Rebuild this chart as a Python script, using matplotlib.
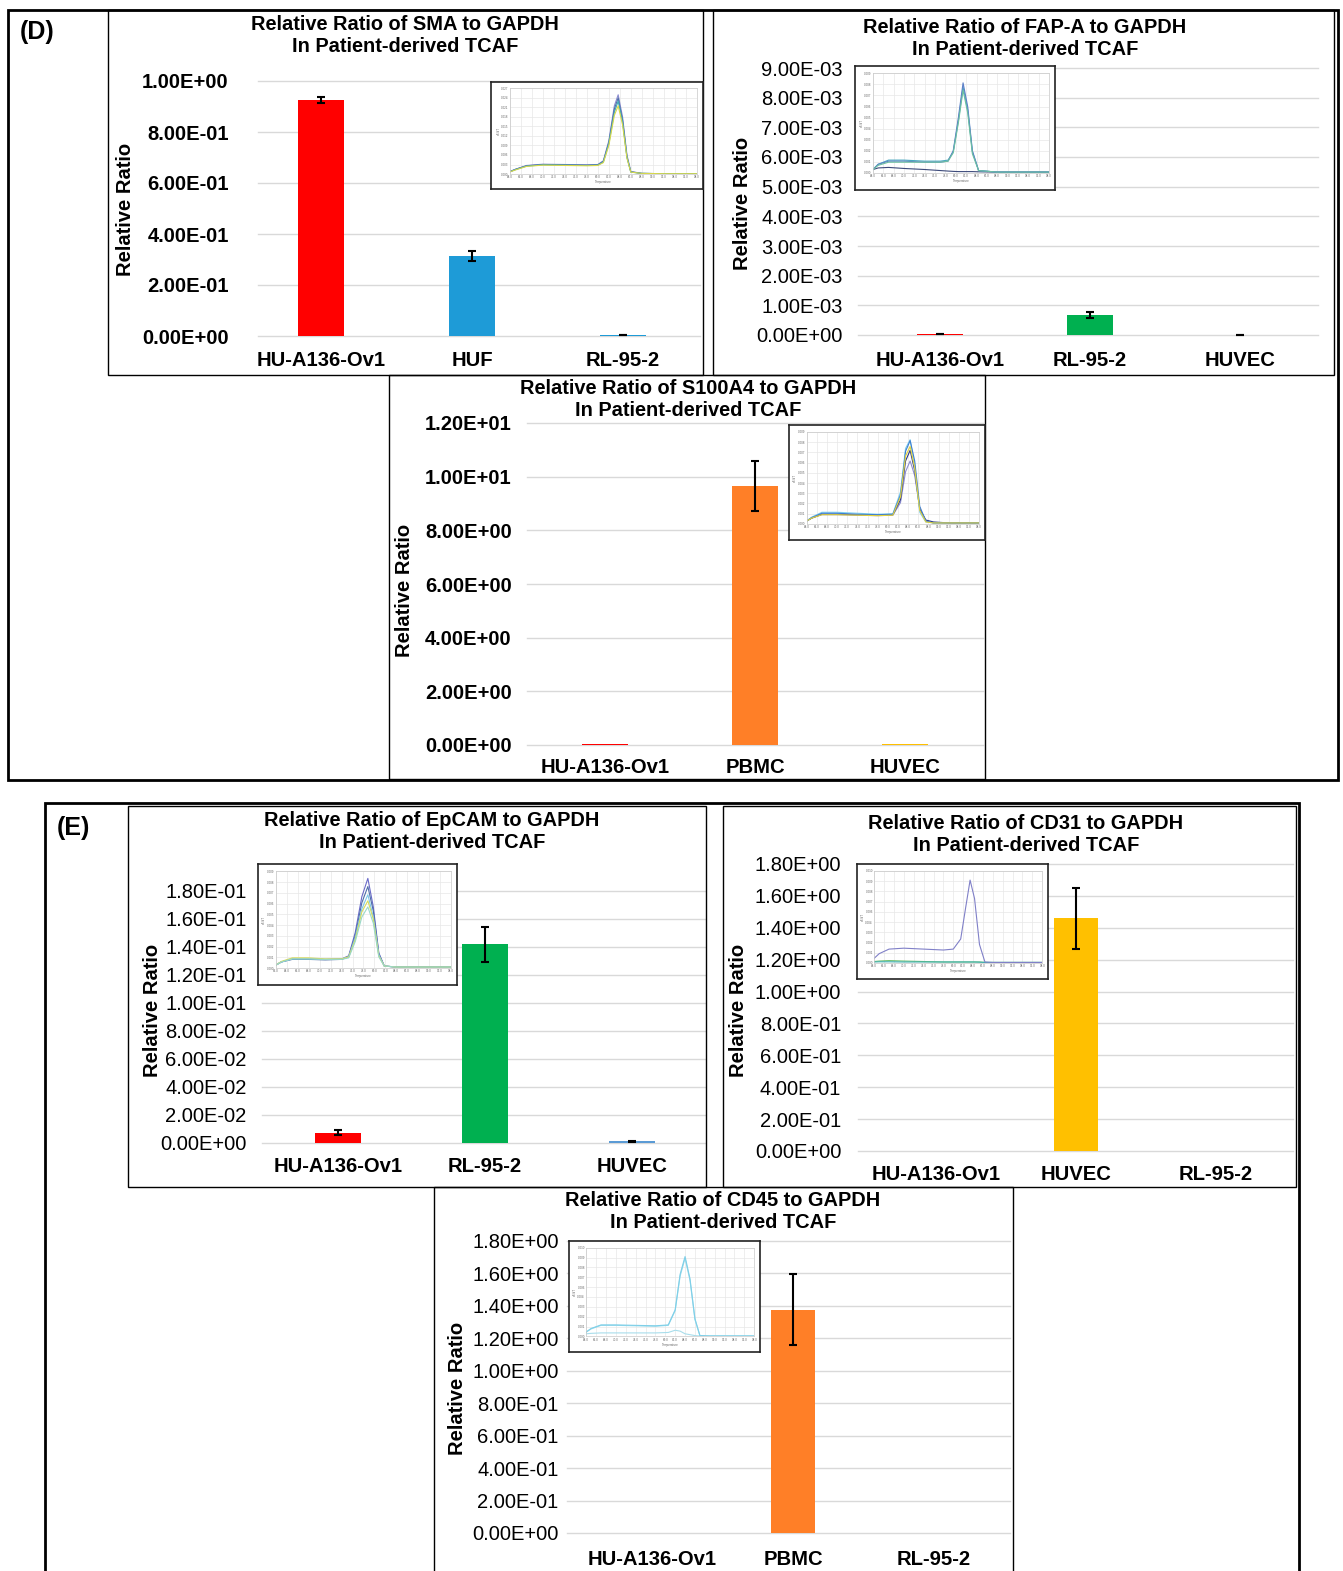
import numpy as np
import matplotlib
matplotlib.use("Agg")
import matplotlib.pyplot as plt
from matplotlib.patches import Rectangle

plt.rcParams['font.family'] = ['Liberation Sans', 'DejaVu Sans']

W, H = 1343, 1571

# ---- bar data ----
sma_cats = ["HU-A136-Ov1", "HUF", "RL-95-2"]
sma_vals = [0.925, 0.314, 0.003]
sma_errs = [0.011, 0.021, 0.001]

fap_cats = ["HU-A136-Ov1", "RL-95-2", "HUVEC"]
fap_vals = [0.00003, 0.00066, 0.0]
fap_errs = [0.000005, 0.0001, 0.000005]

s100_cats = ["HU-A136-Ov1", "PBMC", "HUVEC"]
s100_vals = [0.04, 9.65, 0.04]
s100_errs = [0.0, 0.92, 0.0]

epcam_cats = ["HU-A136-Ov1", "RL-95-2", "HUVEC"]
epcam_vals = [0.0075, 0.142, 0.0012]
epcam_errs = [0.002, 0.0125, 0.0004]

cd31_cats = ["HU-A136-Ov1", "HUVEC", "RL-95-2"]
cd31_vals = [0.0, 1.46, 0.0]
cd31_errs = [0.0, 0.19, 0.0]

cd45_cats = ["HU-A136-Ov1", "PBMC", "RL-95-2"]
cd45_vals = [0.0, 1.376, 0.0]
cd45_errs = [0.0, 0.22, 0.0]

# ---- melt curve insets ----
sma_mx = [64, 65, 67, 70, 74, 78, 80, 81, 82, 83, 83.7, 84.5, 85.3, 86, 88, 92, 98]
sma_mc = [
    [0.8, 1.5, 2.7, 3.1, 3.0, 2.9, 3.0, 4.2, 10.5, 21.5, 25.0, 18.0, 6.0, 0.8, 0.2, 0.1, 0.1],
    [0.8, 1.5, 2.6, 3.0, 2.9, 2.8, 2.9, 4.0, 10.0, 20.5, 24.0, 17.0, 5.5, 0.7, 0.2, 0.1, 0.1],
    [0.7, 1.4, 2.5, 2.9, 2.8, 2.7, 2.8, 3.8, 9.6, 19.5, 23.0, 16.5, 5.2, 0.6, 0.2, 0.1, 0.1],
    [0.7, 1.3, 2.4, 2.8, 2.7, 2.6, 2.7, 3.6, 9.0, 18.5, 21.5, 15.5, 5.0, 0.6, 0.2, 0.1, 0.1],
]
sma_mcol = ["#8C8CD0", "#4F6FA8", "#3FA7B5", "#D8D84A"]

fap_mx = [64, 65, 67, 70, 74, 77, 78.5, 79.5, 80.5, 81.4, 82.3, 83.2, 84.4, 88, 92, 98]
fap_mc = [
    [0.3, 0.45, 0.5, 0.4, 0.3, 0.2, 0.15, 0.12, 0.1, 0.1, 0.1, 0.1, 0.08, 0.05, 0.05, 0.05],
    [0.3, 0.8, 1.2, 1.2, 1.1, 1.1, 1.2, 2.0, 5.0, 8.2, 6.0, 2.0, 0.2, 0.05, 0.05, 0.05],
    [0.3, 0.8, 1.1, 1.1, 1.0, 1.0, 1.1, 2.1, 5.3, 8.6, 6.3, 2.1, 0.2, 0.05, 0.05, 0.05],
    [0.3, 0.7, 1.0, 1.0, 1.0, 1.0, 1.1, 1.9, 4.8, 7.9, 5.7, 1.8, 0.2, 0.05, 0.05, 0.05],
]
fap_mcol = ["#3D4A7A", "#4AA8C0", "#5C7FC8", "#6CC0A0"]

s100_mx = [64, 65, 67, 70, 74, 78, 81, 82.5, 83.5, 84.4, 85.3, 86.3, 87.5, 89, 92, 98]
s100_mc = [
    [0.3, 0.6, 0.95, 0.95, 0.9, 0.85, 0.9, 2.2, 5.4, 6.5, 5.0, 1.6, 0.3, 0.1, 0.1, 0.1],
    [0.3, 0.6, 1.0, 1.0, 0.95, 0.9, 0.95, 2.5, 6.5, 7.6, 5.5, 1.5, 0.4, 0.2, 0.1, 0.1],
    [0.3, 0.7, 1.2, 1.2, 1.1, 1.0, 1.05, 3.3, 7.8, 8.7, 6.0, 1.2, 0.2, 0.1, 0.1, 0.1],
    [0.3, 0.65, 1.1, 1.1, 1.0, 0.95, 1.0, 3.0, 7.5, 8.6, 6.5, 1.8, 0.3, 0.1, 0.1, 0.1],
    [0.3, 0.6, 0.95, 0.95, 0.9, 0.85, 0.9, 2.8, 7.0, 8.0, 5.8, 1.4, 0.2, 0.1, 0.1, 0.1],
]
s100_mcol = ["#8C8CD0", "#2E3A87", "#7FD0F0", "#3F7FD0", "#E3D23A"]

epcam_mx = [62, 63, 65, 68, 71, 74, 75.3, 76.5, 77.7, 78.8, 79.8, 80.8, 81.8, 84, 88, 94]
epcam_mc = [
    [0.3, 0.6, 0.9, 0.9, 0.85, 0.9, 1.2, 3.5, 7.0, 8.8, 6.0, 1.5, 0.2, 0.1, 0.1, 0.1],
    [0.3, 0.6, 0.85, 0.85, 0.8, 0.85, 1.1, 3.2, 6.4, 8.0, 5.6, 1.4, 0.2, 0.1, 0.1, 0.1],
    [0.3, 0.6, 0.9, 0.9, 0.85, 0.9, 1.1, 3.0, 5.8, 7.2, 5.0, 1.3, 0.2, 0.1, 0.1, 0.1],
    [0.3, 0.65, 1.0, 1.0, 0.9, 0.9, 1.1, 2.8, 5.5, 6.6, 4.8, 1.2, 0.2, 0.1, 0.1, 0.1],
    [0.3, 0.6, 0.9, 0.9, 0.85, 0.85, 1.0, 2.6, 5.0, 6.0, 4.4, 1.1, 0.2, 0.1, 0.1, 0.1],
]
epcam_mcol = ["#6A6AC8", "#4F6FA8", "#7EC8E8", "#D8DC5A", "#9AD8C8"]

cd31_mx = [64, 65, 67, 70, 74, 78, 80, 81.5, 82.5, 83.4, 84.3, 85.3, 86.4, 88, 92, 98]
cd31_mc = [
    [0.15, 0.2, 0.25, 0.2, 0.15, 0.1, 0.1, 0.1, 0.1, 0.1, 0.1, 0.1, 0.05, 0.05, 0.05, 0.05],
    [0.1, 0.12, 0.12, 0.1, 0.1, 0.1, 0.1, 0.1, 0.1, 0.1, 0.1, 0.08, 0.05, 0.05, 0.05, 0.05],
    [0.5, 1.0, 1.5, 1.6, 1.5, 1.4, 1.5, 2.6, 6.0, 9.0, 7.0, 2.0, 0.1, 0.05, 0.05, 0.05],
]
cd31_mcol = ["#6CBF6C", "#40B0B0", "#8080C8"]

cd45_mx = [64, 65, 67, 70, 74, 78, 80.6, 82, 83, 84, 85, 86, 87, 89, 93, 98]
cd45_mc = [
    [0.3, 0.35, 0.4, 0.4, 0.4, 0.4, 0.45, 0.7, 0.6, 0.3, 0.2, 0.1, 0.05, 0.05, 0.05, 0.05],
    [0.5, 0.85, 1.25, 1.25, 1.2, 1.15, 1.25, 2.9, 6.8, 8.8, 6.3, 1.9, 0.1, 0.05, 0.05, 0.05],
    [0.5, 0.9, 1.3, 1.3, 1.25, 1.2, 1.3, 3.0, 7.0, 9.0, 6.5, 2.0, 0.1, 0.05, 0.05, 0.05],
]
cd45_mcol = ["#A8DDEB", "#9ADCEB", "#7FCFE8"]

fig = plt.figure(figsize=(W / 100, H / 100), dpi=100)


def px_axes(l, t, r, b, **kw):
    return fig.add_axes([l / W, 1 - b / H, (r - l) / W, (b - t) / H], **kw)


def fx(x):
    return x / W


def fy(y):
    return 1 - y / H


def box(l, t, r, b, lw=1.0):
    fig.add_artist(Rectangle((fx(l), fy(b)), (r - l) / W, (b - t) / H,
                             transform=fig.transFigure, fill=False,
                             edgecolor="black", linewidth=lw))


def bar_chart(grid, cats, vals, errs, colors, ymax, ystep, c0, step,
              bold_ticks, xpad, ypad):
    l, t, r, b = grid
    ax = px_axes(l, t, r, b)
    x = np.arange(len(cats))
    ax.bar(x, vals, width=0.31, color=colors, zorder=2)
    for xi, v, e in zip(x, vals, errs):
        if e > 0:
            ax.errorbar(xi, v, yerr=e, color="black", capsize=3,
                        elinewidth=1.5, capthick=1.5, zorder=3, clip_on=False)
    ax.set_xlim((l - c0) / step, (r - c0) / step)
    ax.set_ylim(0, ymax)
    ticks = np.arange(0, ymax + ystep / 2, ystep)
    ax.set_yticks(ticks)
    ax.set_yticklabels([f"{v:.2E}" for v in ticks], fontsize=14.5,
                       fontweight="bold" if bold_ticks else "normal")
    ax.set_xticks(x)
    ax.set_xticklabels(cats, fontsize=14.6, fontweight="bold")
    ax.tick_params(axis="x", length=0, pad=xpad)
    ax.tick_params(axis="y", length=0, pad=ypad)
    ax.yaxis.grid(True, color="#D9D9D9", linewidth=1, clip_on=False)
    ax.set_axisbelow(True)
    for s in ax.spines.values():
        s.set_visible(False)
    ax.patch.set_alpha(0)
    return ax


def melt_inset(bx, xs, curves, colors, ytop, xt):
    l, t, r, b = bx
    frame = px_axes(l, t, r, b, zorder=5)
    frame.set_xticks([])
    frame.set_yticks([])
    for s in frame.spines.values():
        s.set_linewidth(1.2)
        s.set_color("#222222")
    w, h = r - l, b - t
    ax = px_axes(l + 0.09 * w, t + 0.06 * h, r - 0.03 * w, b - 0.14 * h, zorder=6)
    for ys, c in zip(curves, colors):
        ax.plot(xs, ys, color=c, linewidth=0.8)
    ax.set_xlim(xt[0], xt[-1])
    ax.set_ylim(0, ytop)
    ax.set_xticks(xt)
    ax.set_xticklabels([f"{v:.1f}" for v in xt], fontsize=2.2, color="#666666")
    yt = np.linspace(0, ytop, 10)
    ax.set_yticks(yt)
    ax.set_yticklabels([f"{v / 1000:.3f}" for v in yt], fontsize=2.2, color="#666666")
    ax.tick_params(length=0, pad=1)
    ax.grid(color="#E8E8E8", linewidth=0.5)
    for s in ax.spines.values():
        s.set_color("#C8C8C8")
        s.set_linewidth(0.5)
    ax.set_xlabel("Temperature", fontsize=2.2, labelpad=0.5, color="#666666")
    ax.set_ylabel("dF/dT", fontsize=2.2, labelpad=0.5, color="#666666")


# ---- (D) ----
bar_chart((258, 81, 700, 336), sma_cats, sma_vals, sma_errs,
          ["#FF0000", "#1E9BD7", "#1E9BD7"], 1.0, 0.2, 321, 151, True, 11, 21)
bar_chart((858, 68, 1318, 335), fap_cats, fap_vals, fap_errs,
          ["#FF0000", "#00B050", "#404040"], 0.009, 0.001, 940, 150, False, 11.5, 11)
bar_chart((527, 423, 983, 745), s100_cats, s100_vals, s100_errs,
          ["#FF0000", "#FF7F27", "#FFC000"], 12, 2, 605, 150, True, 9.5, 11)

# ---- (E) ----
bar_chart((262, 891, 705, 1143), epcam_cats, epcam_vals, epcam_errs,
          ["#FF0000", "#00B050", "#5B9BD5"], 0.18, 0.02, 338, 147, False, 10, 11)
bar_chart((858, 864, 1293, 1151), cd31_cats, cd31_vals, cd31_errs,
          ["#FF0000", "#FFC000", "#00B050"], 1.8, 0.2, 936, 140, False, 10, 12)
bar_chart((567, 1241, 1010, 1533), cd45_cats, cd45_vals, cd45_errs,
          ["#FF0000", "#FF7F27", "#00B050"], 1.8, 0.2, 652, 141, False, 12.5, 6)

xt64 = list(range(64, 99, 2))
xt62 = list(range(62, 95, 2))
melt_inset((491, 82, 703, 189), sma_mx, sma_mc, sma_mcol, 27, xt64)
melt_inset((855, 66, 1055, 190), fap_mx, fap_mc, fap_mcol, 9.5, xt64)
melt_inset((789, 425, 985, 540), s100_mx, s100_mc, s100_mcol, 9.5, xt64)
melt_inset((258, 864, 457, 985), epcam_mx, epcam_mc, epcam_mcol, 9.5, xt62)
melt_inset((857, 864, 1048, 979), cd31_mx, cd31_mc, cd31_mcol, 10, xt64)
melt_inset((569, 1241, 760, 1352), cd45_mx, cd45_mc, cd45_mcol, 10, xt64)

# titles
titles = [
    (405, 35.5, "Relative Ratio of SMA to GAPDH"),
    (1025, 38.5, "Relative Ratio of FAP-A to GAPDH"),
    (688, 399.5, "Relative Ratio of S100A4 to GAPDH"),
    (432, 831, "Relative Ratio of EpCAM to GAPDH"),
    (1026, 834.5, "Relative Ratio of CD31 to GAPDH"),
    (723, 1212, "Relative Ratio of CD45 to GAPDH"),
]
for tx, ty, s in titles:
    fig.text(fx(tx), fy(ty), s + "\nIn Patient-derived TCAF", ha="center",
             va="center", fontsize=14.4, fontweight="bold", linespacing=1.2)

ylabels = [(126, 209), (743, 203), (405, 590), (152, 1010), (738, 1010), (458, 1388)]
for lx, ly in ylabels:
    fig.text(fx(lx), fy(ly), "Relative Ratio", rotation=90, ha="center",
             va="center", fontsize=14.5, fontweight="bold")

fig.text(fx(37), fy(32), "(D)", ha="center", va="center", fontsize=18, fontweight="bold")
fig.text(fx(73), fy(828), "(E)", ha="center", va="center", fontsize=18, fontweight="bold")

# frames
box(8, 10, 1338, 780, lw=2)
box(45, 803, 1299, 1580, lw=2)
box(108, 10, 703, 375)
box(713, 10, 1334, 375)
box(389, 375, 985, 779)
box(128, 806, 706, 1187)
box(723, 806, 1296, 1187)
box(434, 1187, 1013, 1580)

fig.savefig("out.png", dpi=100, facecolor="white")
